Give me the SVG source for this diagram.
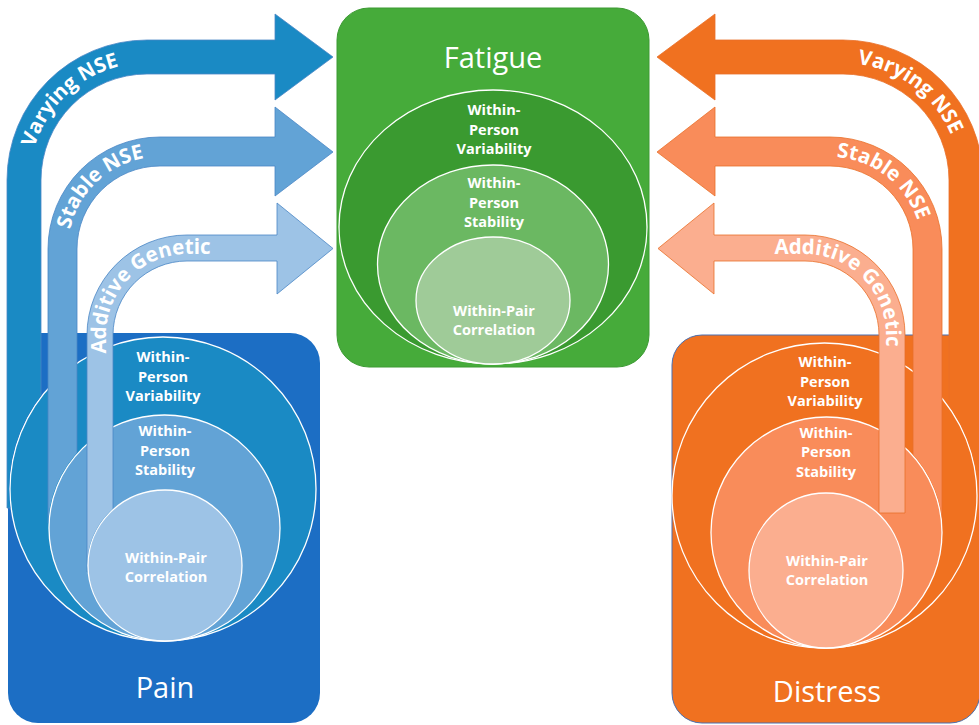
<svg xmlns="http://www.w3.org/2000/svg" width="979" height="725" viewBox="0 0 979 725">
<defs>
<style>
.lbl{font-family:"Open Sans","Liberation Sans",sans-serif;font-weight:700;font-size:14.5px;fill:#fff;text-anchor:middle}
.ttl{font-family:"Open Sans","Liberation Sans",sans-serif;font-weight:400;font-size:29px;fill:#fff;text-anchor:middle}
.alab{font-family:"Open Sans","Liberation Sans",sans-serif;font-weight:700;font-size:20.5px;fill:#fff;text-anchor:middle}
.ring{stroke:#fff;stroke-width:1.3}
.ab{stroke:#4A86C5;stroke-width:0.8}
.ao{stroke:#E8702A;stroke-width:0.8}
.tp{fill:none}
</style>
<mask id="m-var" maskUnits="userSpaceOnUse" x="0" y="0" width="979" height="725">
<rect width="979" height="725" fill="#fff"/>
<ellipse cx="163" cy="489" rx="154" ry="153" fill="#000"/>
<ellipse cx="824.5" cy="495.5" rx="153.5" ry="153.5" fill="#000"/>
</mask>
<mask id="m-stab" maskUnits="userSpaceOnUse" x="0" y="0" width="979" height="725">
<rect width="979" height="725" fill="#fff"/>
<ellipse cx="164.5" cy="528" rx="116.5" ry="114" fill="#000"/>
<ellipse cx="826.5" cy="532.5" rx="116.5" ry="116.5" fill="#000"/>
</mask>
<mask id="m-add" maskUnits="userSpaceOnUse" x="0" y="0" width="979" height="725">
<rect width="979" height="725" fill="#fff"/>
<ellipse cx="165" cy="565.5" rx="78" ry="76.5" fill="#000"/>
<ellipse cx="826" cy="570.5" rx="78" ry="78.5" fill="#000"/>
</mask>
<path id="tp-lv" class="tp" d="M30,300 V180 A117,117 0 0 1 147,63 H330"/>
<path id="tp-ls" class="tp" d="M68,420 V249 A92,92 0 0 1 160,157 H330"/>
<path id="tp-la" class="tp" d="M106,480 V335 A81,81 0 0 1 187,254 H330"/>
<path id="tp-rv" class="tp" d="M660,63 H843 A117,117 0 0 1 960,180 V400"/>
<path id="tp-rs" class="tp" d="M660,157 H830 A92,92 0 0 1 922,249 V420"/>
<path id="tp-ra" class="tp" d="M660,254 H805 A81,81 0 0 1 886,335 V480"/>
</defs>

<g id="pain">
<rect x="8" y="333" width="312" height="390" rx="30" fill="#1C6EC4"/>
<ellipse class="ring" cx="163" cy="489" rx="153" ry="152" fill="#1A8AC4"/>
<ellipse class="ring" cx="164.5" cy="528" rx="115.5" ry="113" fill="#62A3D6"/>
<ellipse class="ring" cx="165" cy="565.5" rx="77" ry="75.5" fill="#9DC3E6"/>
<text class="lbl" x="163" y="362">Within-</text>
<text class="lbl" x="163" y="382">Person</text>
<text class="lbl" x="163" y="401">Variability</text>
<text class="lbl" x="165" y="436">Within-</text>
<text class="lbl" x="165" y="456">Person</text>
<text class="lbl" x="165" y="475">Stability</text>
<text class="lbl" x="166" y="563">Within-Pair</text>
<text class="lbl" x="166" y="582">Correlation</text>
<text class="ttl" x="165" y="698">Pain</text>
</g>

<g id="fatigue">
<rect x="337" y="8" width="312" height="359" rx="32" fill="#46AB3A" stroke="#3C9A33" stroke-width="1"/>
<ellipse class="ring" cx="493" cy="227" rx="154" ry="137" fill="#3A9A30"/>
<ellipse class="ring" cx="493" cy="264.5" rx="115.5" ry="99.5" fill="#6BB862"/>
<ellipse class="ring" cx="493" cy="300.5" rx="77" ry="63.5" fill="#9FCB98"/>
<text class="ttl" x="493" y="68">Fatigue</text>
<text class="lbl" x="494" y="115">Within-</text>
<text class="lbl" x="494" y="135">Person</text>
<text class="lbl" x="494" y="154">Variability</text>
<text class="lbl" x="494" y="188">Within-</text>
<text class="lbl" x="494" y="208">Person</text>
<text class="lbl" x="494" y="227">Stability</text>
<text class="lbl" x="494" y="316">Within-Pair</text>
<text class="lbl" x="494" y="335">Correlation</text>
</g>

<g id="distress">
<rect x="672" y="335" width="308" height="388" rx="30" fill="#F07120" stroke="#4A6FB0" stroke-width="1"/>
<ellipse class="ring" cx="824.5" cy="495.5" rx="152.5" ry="152.5" fill="#F07120"/>
<ellipse class="ring" cx="826.5" cy="532.5" rx="115.5" ry="115.5" fill="#F98C5A"/>
<ellipse class="ring" cx="826" cy="570.5" rx="77" ry="77.5" fill="#FBAE8F"/>
<text class="lbl" x="825" y="367">Within-</text>
<text class="lbl" x="825" y="387">Person</text>
<text class="lbl" x="825" y="406">Variability</text>
<text class="lbl" x="826" y="438">Within-</text>
<text class="lbl" x="826" y="457">Person</text>
<text class="lbl" x="826" y="477">Stability</text>
<text class="lbl" x="827" y="566">Within-Pair</text>
<text class="lbl" x="827" y="585">Correlation</text>
<text class="ttl" x="827" y="702">Distress</text>
</g>

<g id="connectors">
<path id="arrow-pain-varying" class="ab" mask="url(#m-var)" fill="#1A8AC4" d="M7,508 V180 A140,140 0 0 1 147,40 H275 V14 L333,57 L275,100 V74 H147 A106,106 0 0 0 41,180 V508 Z"/>
<path id="arrow-pain-stable" class="ab" mask="url(#m-stab)" fill="#62A3D6" d="M48,523 V249 A112,112 0 0 1 160,137 H275 V107 L333,152 L275,196 V166 H160 A83,83 0 0 0 77,249 V523 Z"/>
<path id="arrow-pain-additive" class="ab" mask="url(#m-add)" fill="#9DC3E6" d="M87,572 V335 A100,100 0 0 1 187,235 H277 V203 L333,248.5 L277,294 V261 H187 A74,74 0 0 0 113,335 V572 Z"/>
<path id="arrow-distress-varying" class="ao" mask="url(#m-var)" fill="#F07120" d="M983,470 V180 A140,140 0 0 0 843,40 H715 V14 L657,57 L715,100 V74 H843 A106,106 0 0 1 949,180 V470 Z"/>
<path id="arrow-distress-stable" class="ao" mask="url(#m-stab)" fill="#F98C5A" d="M942,540 V249 A112,112 0 0 0 830,137 H715 V107 L657,152 L715,196 V166 H830 A83,83 0 0 1 913,249 V540 Z"/>
<path id="arrow-distress-additive" class="ao" mask="url(#m-add)" fill="#FBAE8F" d="M905,513 V335 A100,100 0 0 0 805,235 H714 V203 L658,248.5 L714,294 V261 H805 A74,74 0 0 1 879,335 V513 Z"/>
<text class="alab"><textPath href="#tp-lv" startOffset="214">Varying NSE</textPath></text>
<text class="alab"><textPath href="#tp-ls" startOffset="245">Stable NSE</textPath></text>
<text class="alab"><textPath href="#tp-la" startOffset="211">Additive Genetic</textPath></text>
<text class="alab"><textPath href="#tp-rv" startOffset="259">Varying NSE</textPath></text>
<text class="alab"><textPath href="#tp-rs" startOffset="231">Stable NSE</textPath></text>
<text class="alab"><textPath href="#tp-ra" startOffset="199">Additive Genetic</textPath></text>
</g>
</svg>
